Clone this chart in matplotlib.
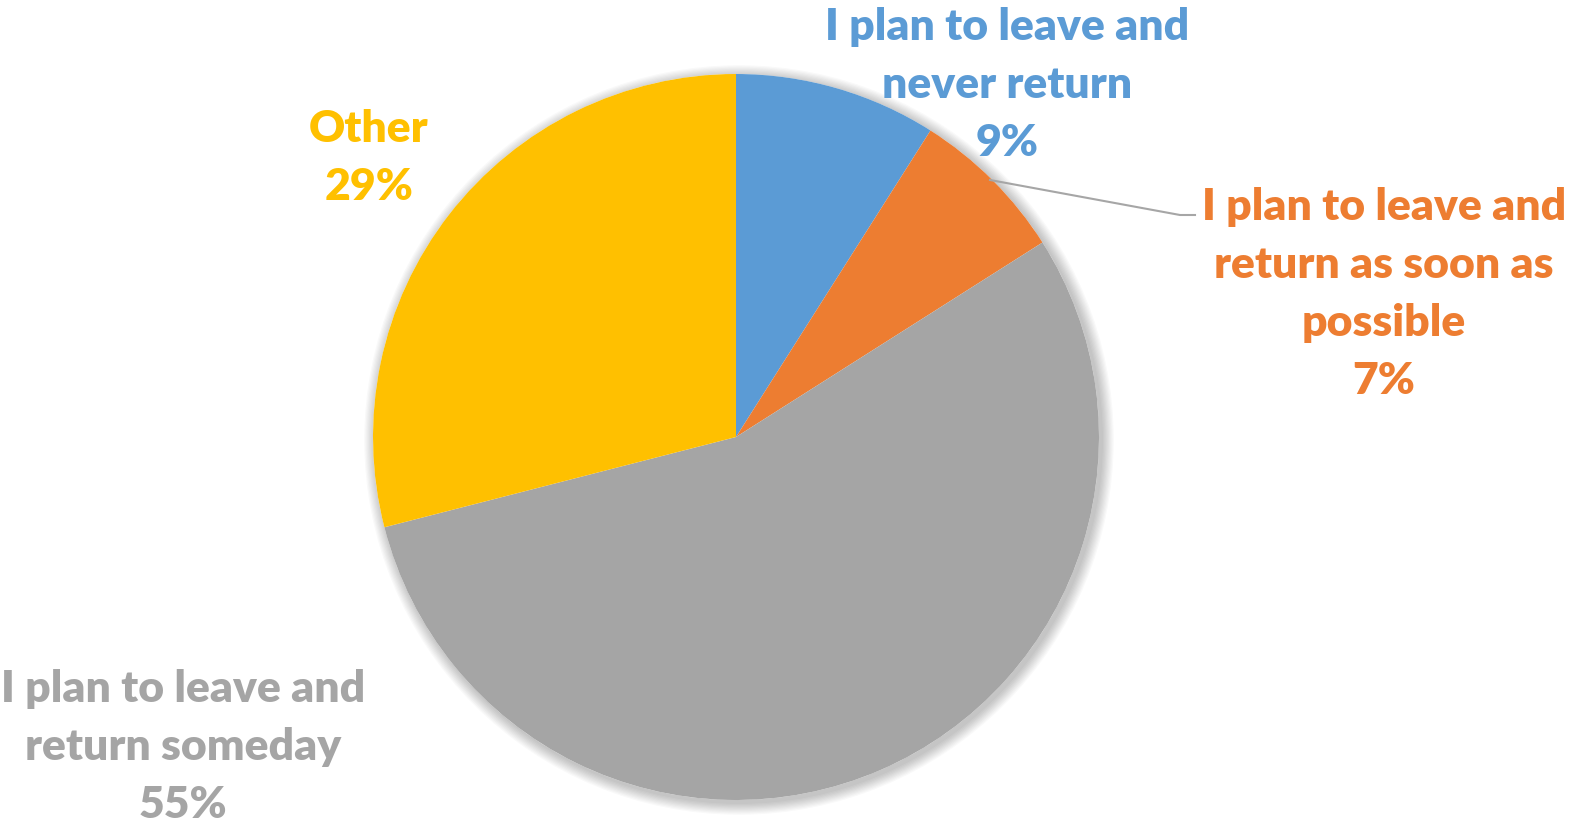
import matplotlib.pyplot as plt
from matplotlib.patches import Circle

# data
labels = ["I plan to leave and\nnever return", "I plan to leave and\nreturn as soon as\npossible",
          "I plan to leave and\nreturn someday", "Other"]
shares = [9, 7, 55, 29]
colors = ["#5B9BD5", "#ED7D31", "#A5A5A5", "#FFC000"]

W, H = 1575, 830
fig = plt.figure(figsize=(W / 100, H / 100), dpi=100)
ax = fig.add_axes([0, 0, 1, 1])

cx, cy, r = 736, H - 437, 363

# soft shadow behind the pie
for i in range(10):
    ax.add_patch(Circle((cx + 3, cy - 3), r + 1 + i * 1.2, color="black",
                        alpha=0.025, lw=0, zorder=0))
ax.add_patch(Circle((cx, cy), r, color="white", lw=0, zorder=0.5))

ax.pie(shares, colors=colors, startangle=90, counterclock=False,
       center=(cx, cy), radius=r, wedgeprops=dict(linewidth=0),
       frame=True)
ax.set_xlim(0, W)
ax.set_ylim(0, H)
ax.set_aspect("equal")
ax.axis("off")

font = dict(family="Lato", fontweight="heavy", fontsize=32, ha="center",
            va="center", linespacing=1.54)
# label positions (px, from top)
pos = [(1007, 85), (1384, 294), (183, 747), (369, 158)]
for lab, s, c, (x, y) in zip(labels, shares, colors, pos):
    ax.text(x, H - y, f"{lab}\n{s}%", color=c, **font)

# leader line for the small orange slice
ax.plot([990, 1180, 1195], [H - 180, H - 215, H - 215], color="#A6A6A6", lw=1.5)

fig.savefig("out.png", dpi=100)
